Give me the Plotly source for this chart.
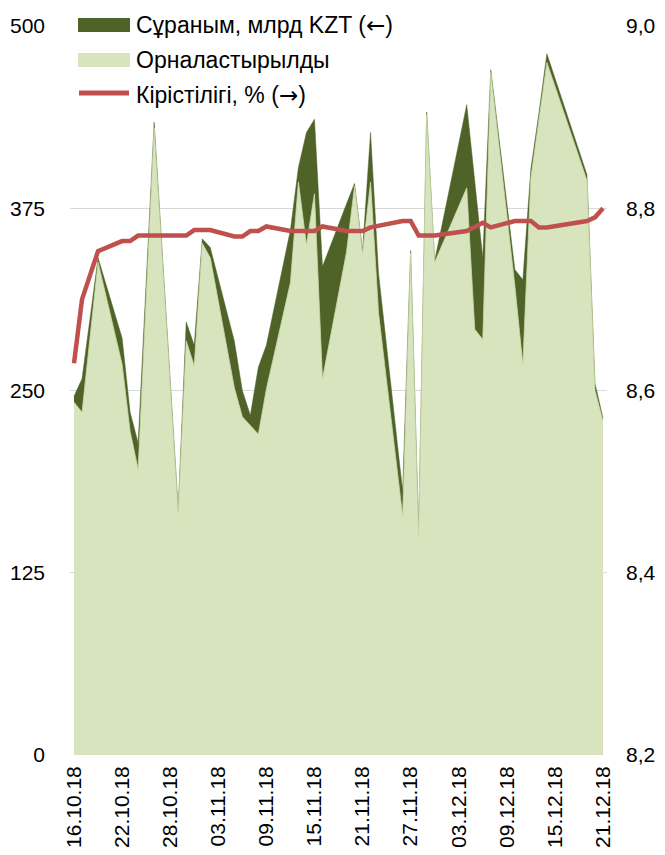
import plotly.graph_objects as go

# ---- data ----
dates = ["2018-10-16", "2018-10-17", "2018-10-19", "2018-10-22", "2018-10-23", "2018-10-24",
         "2018-10-26", "2018-10-29", "2018-10-30", "2018-10-31", "2018-11-01", "2018-11-02",
         "2018-11-05", "2018-11-06", "2018-11-07", "2018-11-08", "2018-11-09", "2018-11-12",
         "2018-11-13", "2018-11-14", "2018-11-15", "2018-11-16", "2018-11-19", "2018-11-20",
         "2018-11-21", "2018-11-22", "2018-11-23", "2018-11-26", "2018-11-27", "2018-11-28",
         "2018-11-29", "2018-11-30", "2018-12-04", "2018-12-05", "2018-12-06", "2018-12-07",
         "2018-12-10", "2018-12-11", "2018-12-12", "2018-12-13", "2018-12-14", "2018-12-19",
         "2018-12-20", "2018-12-21"]

demand = [246, 258, 341, 286, 235, 214, 434, 169, 297, 281, 354, 348,
          284, 250, 233, 266, 281, 360, 403, 427, 436, 335, 378, 392,
          346, 427, 330, 181, 346, 155, 441, 339, 446, 393, 341, 470,
          333, 326, 402, 440, 481, 398, 255, 231]

placed = [242, 235, 338, 268, 222, 196, 430, 166, 284, 267, 351, 341,
          252, 232, 226, 220, 251, 324, 393, 350, 385, 258, 345, 390,
          344, 393, 303, 164, 344, 150, 439, 338, 389, 292, 285, 468,
          322, 268, 396, 436, 475, 394, 250, 229]

yields = [8.63, 8.70, 8.753, 8.764, 8.764, 8.770, 8.770, 8.770, 8.770, 8.776, 8.776, 8.776,
          8.769, 8.769, 8.775, 8.775, 8.780, 8.775, 8.775, 8.775, 8.775, 8.780, 8.775, 8.775,
          8.775, 8.779, 8.781, 8.786, 8.786, 8.770, 8.770, 8.770, 8.775, 8.780, 8.784, 8.779,
          8.786, 8.786, 8.786, 8.779, 8.779, 8.786, 8.790, 8.800]

tick_labels = ["16.10.18", "22.10.18", "28.10.18", "03.11.18", "09.11.18", "15.11.18",
               "21.11.18", "27.11.18", "03.12.18", "09.12.18", "15.12.18", "21.12.18"]
left_ticks = [0, 125, 250, 375, 500]
right_ticks = [8.2, 8.4, 8.6, 8.8, 9.0]

names = ["Сұраным, млрд KZT (←)", "Орналастырылды", "Кірістілігі, % (→)"]

# ---- styles ----
DARK = "#4F6228"
LIGHT = "#D7E4BD"
RED = "#C0504D"
FONT = "Liberation Sans, Arial, sans-serif"
FS = 21

tick_vals = ["20" + t[6:8] + "-" + t[3:5] + "-" + t[0:2] for t in tick_labels]

fig = go.Figure()
fig.add_trace(go.Scatter(x=dates, y=demand, name=names[0], mode="lines",
                         fill="tozeroy", fillcolor=DARK,
                         line=dict(color=DARK, width=0.5), showlegend=False))
fig.add_trace(go.Scatter(x=dates, y=placed, name=names[1], mode="lines",
                         fill="tozeroy", fillcolor=LIGHT,
                         line=dict(color="#C8DAA6", width=0.8), showlegend=False))
fig.add_trace(go.Scatter(x=dates, y=yields, name=names[2], mode="lines", yaxis="y2",
                         line=dict(color=RED, width=4.5), showlegend=False))

# ---- geometry (page body has an 8px margin on every side) ----
OFF = 8
W, H = 665 - 2 * OFF, 855 - 2 * OFF
L = 70 - OFF
T = 26 - OFF
R = W - (607 - OFF)
B = H - (755 - OFF)
pw, ph = W - L - R, H - T - B


def px(x):
    return (x - OFF - L) / pw


def py(y):
    return (H - B - (y - OFF)) / ph


def arrows(s):
    for a in ("←", "→"):
        s = s.replace(a, '<span style="font-family:DejaVu Sans">' + a + '</span>')
    return s


shapes = [
    dict(type="rect", xref="paper", yref="paper", x0=px(78), x1=px(130), y0=py(32), y1=py(18),
         fillcolor=DARK, line=dict(width=0)),
    dict(type="rect", xref="paper", yref="paper", x0=px(78), x1=px(130), y0=py(67), y1=py(53),
         fillcolor=LIGHT, line=dict(width=0)),
    dict(type="line", xref="paper", yref="paper", x0=px(79), x1=px(129), y0=py(93), y1=py(93),
         line=dict(color=RED, width=5)),
]
annotations = []
for name, yy in zip(names, [25, 60, 95]):
    annotations.append(dict(text=arrows(name), xref="paper", yref="paper", x=px(134), y=py(yy),
                            xanchor="left", yanchor="middle", showarrow=False,
                            font=dict(family=FONT, size=23, color="#000000")))

fig.update_layout(
    template="none",
    width=W, height=H,
    margin=dict(l=L, r=R, t=T, b=B, autoexpand=False),
    paper_bgcolor="white", plot_bgcolor="white",
    separators=", ",
    font=dict(family=FONT, size=FS, color="#000000"),
    showlegend=False,
    shapes=shapes,
    annotations=annotations,
    xaxis=dict(type="date", range=["2018-10-15 12:00", "2018-12-21 12:00"],
               tickvals=tick_vals, ticktext=tick_labels, tickangle=-90,
               showgrid=False, zeroline=False, showline=False, ticks="",
               ticklabelstandoff=6, automargin=False,
               tickfont=dict(family=FONT, size=FS, color="#000000")),
    yaxis=dict(range=[0, 500], tickvals=left_ticks, showgrid=True, gridcolor="#D9D9D9",
               gridwidth=1.3, zeroline=False, showline=False, ticks="",
               ticklabelstandoff=24, automargin=False,
               tickfont=dict(family=FONT, size=FS, color="#000000")),
    yaxis2=dict(range=[8.2, 9.0], tickvals=right_ticks, tickformat=".1f",
                overlaying="y", side="right", showgrid=False, zeroline=False,
                showline=False, ticks="", ticklabelstandoff=18, automargin=False,
                tickfont=dict(family=FONT, size=FS, color="#000000")),
)

fig.write_html("out.html")
